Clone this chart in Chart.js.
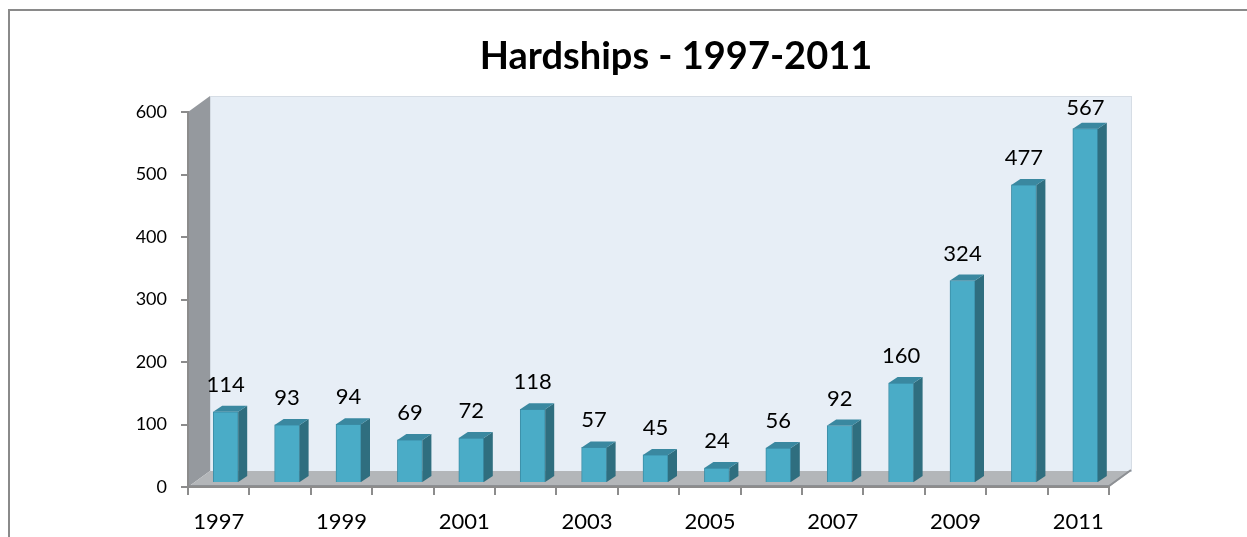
<!DOCTYPE html>
<html>
<head>
<meta charset="utf-8">
<script src="https://cdn.jsdelivr.net/npm/chart.js@4/dist/chart.umd.min.js"></script>
<style>
  body { margin: 0; background: #fff; }
  canvas { display: block; }
</style>
</head>
<body>
<canvas id="hardshipChart" width="1247" height="537"></canvas>
<script>
const years = ['1997', '1998', '1999', '2000', '2001', '2002', '2003', '2004',
               '2005', '2006', '2007', '2008', '2009', '2010', '2011'];
const hardships = [114, 93, 94, 69, 72, 118, 57, 45, 24, 56, 92, 160, 324, 477, 567];
const yMax = 600;
const yStep = 100;

const FONT = 'Lato, "Open Sans", sans-serif';
const DEPTH_X = 22, DEPTH_Y = 16;      // wall / floor depth
const BAR_DX = 9, BAR_DY = 6;          // bar side and top depth
const BAR_SHIFT_X = 7, BAR_SHIFT_Y = -4;

// frame, walls and floor behind the bars
const backdrop = {
    id: 'backdrop',
    beforeDraw(chart) {
        const { ctx, chartArea: a } = chart;
        ctx.save();
        ctx.strokeStyle = '#8a8a8a';
        ctx.lineWidth = 2;
        ctx.strokeRect(9, 10, 2000, 2000);

        // back wall
        ctx.fillStyle = '#e7eef6';
        ctx.fillRect(a.left + DEPTH_X, a.top - DEPTH_Y, a.width, a.height);
        ctx.strokeStyle = '#d6dde5';
        ctx.lineWidth = 1;
        ctx.strokeRect(a.left + DEPTH_X + 0.5, a.top - DEPTH_Y + 0.5, a.width, a.height);

        // left wall
        ctx.fillStyle = '#95999e';
        ctx.beginPath();
        ctx.moveTo(a.left, a.top);
        ctx.lineTo(a.left + DEPTH_X, a.top - DEPTH_Y);
        ctx.lineTo(a.left + DEPTH_X, a.bottom - DEPTH_Y);
        ctx.lineTo(a.left, a.bottom);
        ctx.closePath();
        ctx.fill();

        // floor
        ctx.fillStyle = '#b3b6b9';
        ctx.beginPath();
        ctx.moveTo(a.left, a.bottom);
        ctx.lineTo(a.left + DEPTH_X, a.bottom - DEPTH_Y);
        ctx.lineTo(a.right + DEPTH_X, a.bottom - DEPTH_Y);
        ctx.lineTo(a.right, a.bottom);
        ctx.closePath();
        ctx.fill();
        ctx.strokeStyle = '#8d9094';
        ctx.lineWidth = 2;
        ctx.beginPath();
        ctx.moveTo(a.left, a.bottom - 1);
        ctx.lineTo(a.right, a.bottom - 1);
        ctx.lineTo(a.right + DEPTH_X, a.bottom - DEPTH_Y - 1);
        ctx.stroke();
        ctx.restore();

        // title
        ctx.save();
        ctx.fillStyle = '#000';
        ctx.font = 'bold 38px ' + FONT;
        ctx.textAlign = 'center';
        ctx.textBaseline = 'alphabetic';
        ctx.fillText('Hardships - 1997-2011', 676, 69);
        ctx.restore();
    }
};

// push bars into the box and add the side / top faces plus value labels
const bars3d = {
    id: 'bars3d',
    beforeDatasetsDraw(chart) {
        chart.ctx.save();
        chart.ctx.translate(BAR_SHIFT_X, BAR_SHIFT_Y);
    },
    afterDatasetsDraw(chart) {
        const ctx = chart.ctx;
        const meta = chart.getDatasetMeta(0);
        meta.data.forEach(bar => {
            const l = bar.x - bar.width / 2, r = bar.x + bar.width / 2;
            const t = bar.y, b = bar.base;
            ctx.fillStyle = '#2f6e7f';
            ctx.beginPath();
            ctx.moveTo(r, t);
            ctx.lineTo(r + BAR_DX, t - BAR_DY);
            ctx.lineTo(r + BAR_DX, b - BAR_DY);
            ctx.lineTo(r, b);
            ctx.closePath();
            ctx.fill();
            ctx.fillStyle = '#3a88a0';
            ctx.beginPath();
            ctx.moveTo(l, t);
            ctx.lineTo(l + BAR_DX, t - BAR_DY);
            ctx.lineTo(r + BAR_DX, t - BAR_DY);
            ctx.lineTo(r, t);
            ctx.closePath();
            ctx.fill();
        });
        ctx.restore();

        const wallTop = chart.chartArea.top - DEPTH_Y;
        ctx.save();
        ctx.fillStyle = '#000';
        ctx.font = '22px ' + FONT;
        ctx.textAlign = 'center';
        ctx.textBaseline = 'alphabetic';
        meta.data.forEach((bar, i) => {
            const y = Math.max(bar.y + BAR_SHIFT_Y - 20, wallTop + 19);
            ctx.fillText(String(hardships[i]), bar.x + BAR_SHIFT_X, y);
        });
        ctx.restore();
    }
};

new Chart(document.getElementById('hardshipChart'), {
    type: 'bar',
    data: {
        labels: years,
        datasets: [{
            data: hardships,
            backgroundColor: '#4aacc7',
            borderColor: '#3b8da6',
            borderWidth: 1,
            barThickness: 25
        }]
    },
    options: {
        responsive: false,
        animation: false,
        layout: { padding: { top: 112, right: 138, left: 0, bottom: 0 } },
        plugins: {
            legend: { display: false },
            tooltip: { enabled: false }
        },
        scales: {
            x: {
                offset: true,
                grid: { offset: true, drawOnChartArea: false, tickLength: 8, color: '#8c8c8c', lineWidth: 2 },
                border: { color: '#8c8c8c', width: 2 },
                ticks: {
                    color: '#000',
                    font: { family: FONT, size: 22 },
                    padding: 14,
                    autoSkip: false,
                    maxRotation: 0,
                    callback: (v, i) => (i % 2 ? '' : years[i])
                },
                afterFit: s => { s.height = 50; }
            },
            y: {
                min: 0,
                max: yMax,
                grid: { drawOnChartArea: false, tickLength: 7, color: '#8c8c8c', lineWidth: 2 },
                border: { color: '#8c8c8c', width: 2 },
                ticks: {
                    stepSize: yStep,
                    color: '#000',
                    font: { family: FONT, size: 18 },
                    padding: 14
                },
                afterFit: s => { s.width = 188; }
            }
        }
    },
    plugins: [backdrop, bars3d]
});
</script>
</body>
</html>
